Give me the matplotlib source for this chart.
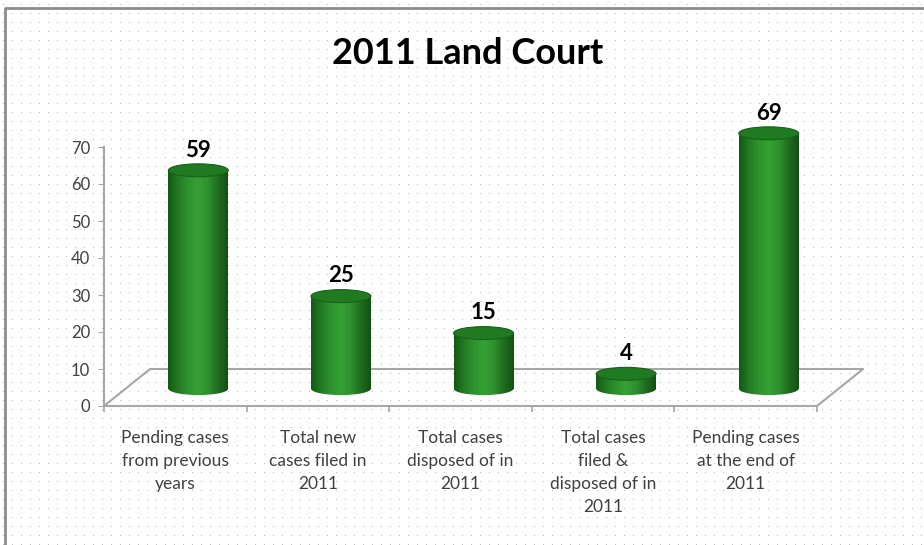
import numpy as np
import matplotlib.pyplot as plt
from matplotlib.patches import Ellipse, Rectangle
from matplotlib.colors import LinearSegmentedColormap

categories = ["Pending cases\nfrom previous\nyears",
              "Total new\ncases filed in\n2011",
              "Total cases\ndisposed of in\n2011",
              "Total cases\nfiled &\ndisposed of in\n2011",
              "Pending cases\nat the end of\n2011"]
values = [59, 25, 15, 4, 69]

plt.rcParams['font.family'] = ['Lato', 'DejaVu Sans']

W, H = 924, 545
fig = plt.figure(figsize=(9.24, 5.45), dpi=100)

# dotted background + frame
bg = fig.add_axes([0, 0, 1, 1])
bg.set_xlim(0, W)
bg.set_ylim(H, 0)
bg.axis('off')
gx, gy = np.meshgrid(np.arange(3, W, 9), np.arange(4, H, 9))
bg.scatter(gx.ravel(), gy.ravel(), s=0.7, color='#bdbdbd', lw=0)
bg.plot([5, 5, W + 5], [H + 5, 8, 8], color='#8c8c8c', lw=2)

fig.text(468 / W, 1 - 54 / H, "2011 Land Court", ha='center', va='center',
         fontsize=26, fontweight='bold', color='black')

# plot area: front floor edge from x=104 to 817 px, 0 at 406 px, 70 at 147 px
ymax = 85
ax = fig.add_axes([104 / W, (H - 406) / H, 713 / W, 259 / 70 * ymax / H])
ax.set_facecolor('none')
n = len(values)
dx, dy = 0.323, 10.0          # depth offset of the floor
hw, eh = 0.21, 3.5            # cylinder half width, ellipse height
base = 4.7

gray = '#a6a6a6'
ax.plot([0, n, n + dx, dx, 0], [0, 0, dy, dy, 0], color=gray, lw=1.5,
        clip_on=False, zorder=1)

cmap = LinearSegmentedColormap.from_list(
    'cyl', ['#145814', '#227a22', '#2e932e', '#35a035', '#2e902e', '#206c20', '#135013'])
grad = np.linspace(0, 1, 256).reshape(1, -1)

for i, v in enumerate(values):
    cx = i + 0.5 + dx / 2
    top = base + v
    ext = [cx - hw, cx + hw, base - eh / 2, top]
    side = Rectangle((cx - hw, base), 2 * hw, v, facecolor='none', edgecolor='none')
    bot = Ellipse((cx, base), 2 * hw, eh, facecolor='none', edgecolor='none')
    ax.add_patch(side)
    ax.add_patch(bot)
    for clip in (side, bot):
        im = ax.imshow(grad, cmap=cmap, extent=ext, aspect='auto',
                       origin='lower', zorder=3)
        im.set_clip_path(clip)
    ax.add_patch(Ellipse((cx, top), 2 * hw, eh, facecolor='#1f7a22',
                         edgecolor='#176217', lw=0.8, zorder=4))
    ax.text(cx, top + eh / 2 + 0.9, str(v), ha='center', va='bottom',
            fontsize=16, fontweight='bold', color='black', zorder=5)

ax.set_xlim(0, n)
ax.set_ylim(0, ymax)
for s in ['top', 'right', 'bottom']:
    ax.spines[s].set_visible(False)
ax.spines['left'].set_color(gray)
ax.spines['left'].set_linewidth(1.5)
ax.spines['left'].set_bounds(0, 70)

ax.set_yticks(range(0, 71, 10))
ax.tick_params(axis='y', length=4, color=gray, labelsize=12,
               labelcolor='#404040', pad=6)
ax.set_xticks(range(n + 1))
ax.set_xticklabels([])
ax.set_xticks([i + 0.5 for i in range(n)], minor=True)
ax.set_xticklabels(categories, minor=True, fontsize=12.5, color='#404040',
                   linespacing=1.55)
ax.tick_params(axis='x', which='major', length=4, color=gray, width=1.2)
ax.tick_params(axis='x', which='minor', length=0, pad=17)

fig.savefig('out.png', dpi=100)
